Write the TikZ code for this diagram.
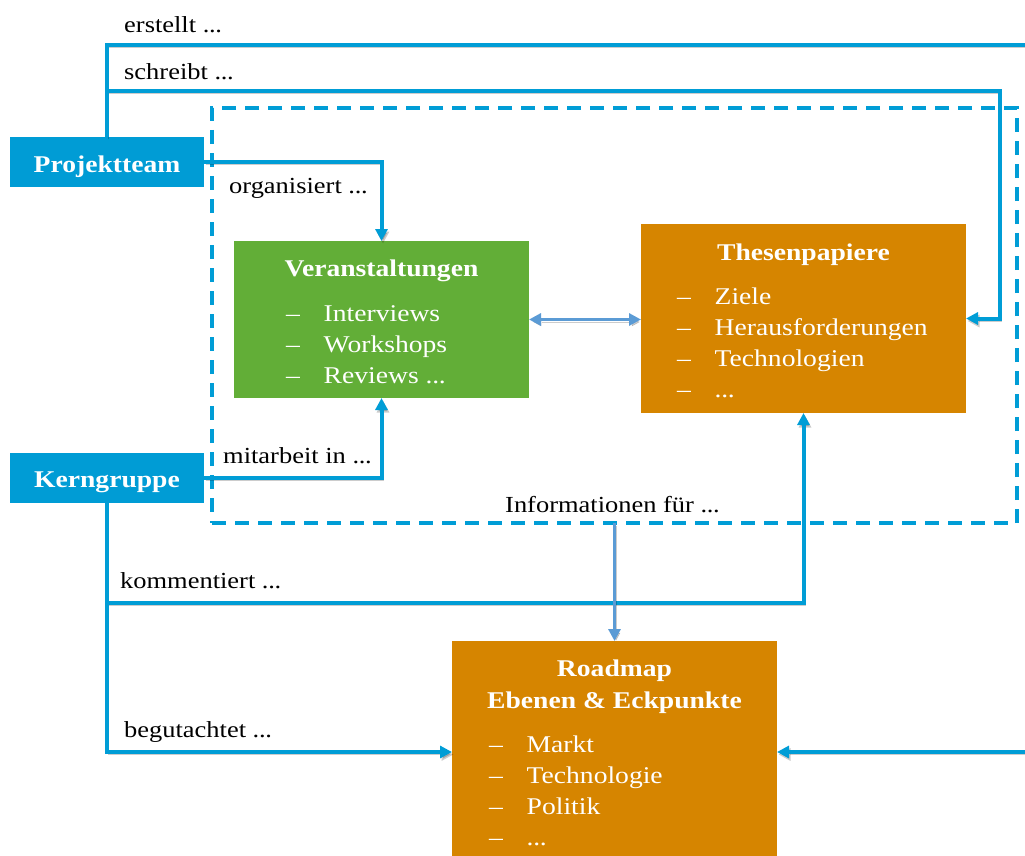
\documentclass[tikz,border=0pt]{standalone}
\usepackage{fontspec}
\setmainfont{Liberation Serif}[FakeStretch=1.15]
\usetikzlibrary{arrows.meta}

\definecolor{teamblue}{HTML}{009CD5}
\definecolor{linkblue}{HTML}{009DD6}
\definecolor{softblue}{HTML}{5B9BD5}
\definecolor{eventgreen}{HTML}{62AE37}
\definecolor{docorange}{HTML}{D68500}

\newcommand\boxfont{\fontsize{24}{31}\selectfont}
\newcommand\linkfont{\fontsize{23}{28}\selectfont}
\newcommand\dashitem[1]{\makebox[37.5pt][l]{–}#1}
% tight three-dot ellipsis
\newcommand\etcdots{.\kern-0.3pt.\kern-0.3pt.}

\begin{document}
\begin{tikzpicture}[x=1pt,y=-1pt,
  shadowed/.style={preaction={draw=black, opacity=0.2,
      transform canvas={shift={(1.5pt,-2.5pt)}}}},
  conn/.style={draw=linkblue, line width=4pt, line join=miter, shadowed},
  soft/.style={draw=softblue, line width=3pt, shadowed},
  tip/.style={-{Triangle[length=12pt,width=12pt]}},
  softtips/.style={{Triangle[length=12pt,width=12pt]}-{Triangle[length=12pt,width=12pt]}},
  softtip/.style={-{Triangle[length=12pt,width=12pt]}},
  box/.style={rectangle, inner sep=0pt, outer sep=0pt},
  actor/.style={box, fill=teamblue, minimum width=194pt, minimum height=50pt},
  title/.style={anchor=base, inner sep=0pt, text=white, font=\boxfont\bfseries},
  item/.style={anchor=base west, inner sep=0pt, text=white, font=\boxfont},
  linklabel/.style={anchor=base west, inner sep=0pt, text=black, font=\linkfont}]

\useasboundingbox (0,0) rectangle (1025,856);

% dashed frame around the working area
\node[box, draw=linkblue, line width=3.5pt, dash pattern=on 14pt off 9pt,
      minimum width=805pt, minimum height=415pt] (field) at (614.5,315.5) {};

% boxes
\node[actor] (team) at (107,162) {};
\node[actor] (kern) at (107,477.5) {};
\node[box, fill=eventgreen, minimum width=295pt, minimum height=157pt] (events) at (381.5,319.5) {};
\node[box, fill=docorange, minimum width=325pt, minimum height=189pt] (thesen) at (803.5,318.5) {};
\node[box, fill=docorange, minimum width=325pt, minimum height=222pt] (roadmap) at (614.5,752) {};

% branch points on the vertical lines
\coordinate (sj) at (107,91);
\coordinate (kj) at (107,603);
\coordinate (sr) at ([xshift=34pt]thesen.east);
\coordinate (ot) at (1045,45);
\coordinate (ob) at (1045,752);

% connectors
\draw[conn, tip] (team.north) |- (ot) -- (ob) -- (roadmap.east);
\draw[conn, tip] (sj) -| (sr) -- (thesen.east);
\draw[conn, tip] (team.east) -| (events.north);
\draw[conn, tip] (kern.east) -| (events.south);
\draw[conn, tip] (kern.south) |- (roadmap.west);
\draw[conn, tip] (kj) -| (thesen.south);
\draw[soft, softtips] (events.east) -- (events.east -| thesen.west);
\draw[soft, softtip] (field.south) -- (roadmap.north);

% box texts
\node[title] (teamtext) at (107,172) {Projektteam};
\node[title] (kerntext) at (107,487) {Kerngruppe};

\node[title] (eventstitle) at (381.5,276) {Veranstaltungen};
\node[item] (ev1) at (286,321) {\dashitem{Interviews}};
\node[item] (ev2) at (286,352) {\dashitem{Workshops}};
\node[item] (ev3) at (286,383) {\dashitem{Reviews \etcdots}};

\node[title] (thesentitle) at (803.5,260) {Thesenpapiere};
\node[item] (th1) at (677,304) {\dashitem{Ziele}};
\node[item] (th2) at (677,335) {\dashitem{Herausforderungen}};
\node[item] (th3) at (677,366) {\dashitem{Technologien}};
\node[item] (th4) at (677,397) {\dashitem{\etcdots}};

\node[title] (roadtitle) at (614.5,676) {Roadmap};
\node[title] (roadsub) at (614.5,708) {Ebenen \& Eckpunkte};
\node[item] (rm1) at (489,752) {\dashitem{Markt}};
\node[item] (rm2) at (489,783) {\dashitem{Technologie}};
\node[item] (rm3) at (489,814) {\dashitem{Politik}};
\node[item] (rm4) at (489,845) {\dashitem{\etcdots}};

% connector labels
\node[linklabel] (lerstellt) at (124,33) {erstellt \etcdots};
\node[linklabel] (lschreibt) at (124,80) {schreibt \etcdots};
\node[linklabel] (lorg) at (229,193) {organisiert \etcdots};
\node[linklabel] (lmit) at (223,463) {mitarbeit in \etcdots};
\node[linklabel] (linfo) at (505,512) {Informationen für \etcdots};
\node[linklabel] (lkomm) at (120,588) {kommentiert \etcdots};
\node[linklabel] (lbeg) at (124,737) {begutachtet \etcdots};

\end{tikzpicture}
\end{document}
